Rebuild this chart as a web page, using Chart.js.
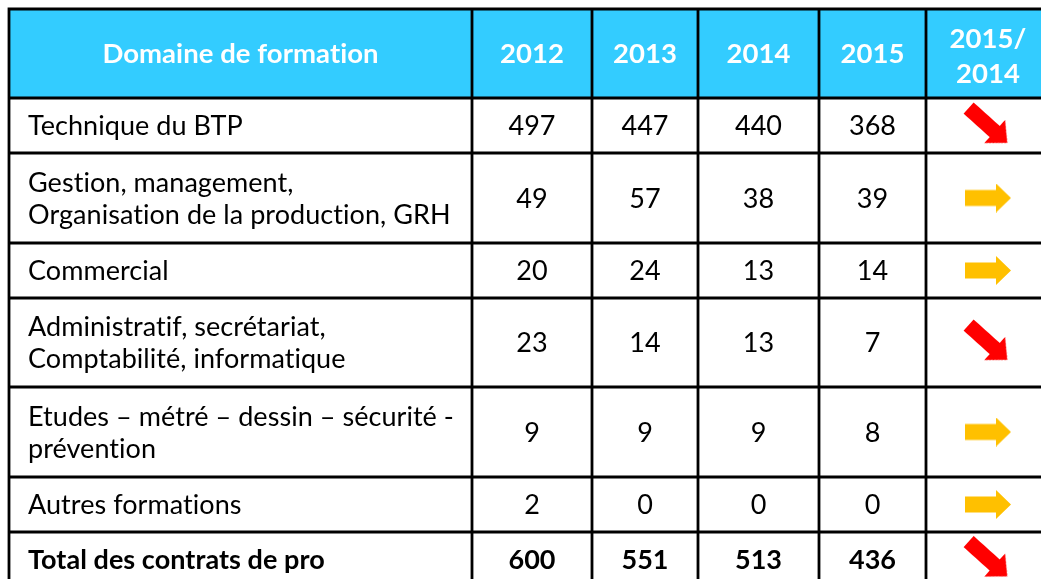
<!DOCTYPE html>
<html lang="fr">
<head>
<meta charset="UTF-8">
<title>Contrats de professionnalisation par domaine</title>
<script src="https://cdn.jsdelivr.net/npm/chart.js@4"></script>
<style>
    html, body { margin: 0; padding: 0; background: #ffffff; overflow: hidden; }
    #wrap { position: relative; width: 1041px; height: 579px; }
</style>
</head>
<body>
<div id="wrap"><canvas id="tableau"></canvas></div>
<script>
// Données du tableau
const enteteDomaine = 'Domaine de formation';
const annees = ['2012', '2013', '2014', '2015'];
const enteteEvolution = '2015/\n2014';
const domaines = [
    'Technique du BTP',
    'Gestion, management,\nOrganisation de la production, GRH',
    'Commercial',
    'Administratif, secrétariat,\nComptabilité, informatique',
    'Etudes – métré – dessin – sécurité -\nprévention',
    'Autres formations',
    'Total des contrats de pro'
];
const v2012 = [497, 49, 20, 23, 9, 2, 600];
const v2013 = [447, 57, 24, 14, 9, 0, 551];
const v2014 = [440, 38, 13, 13, 9, 0, 513];
const v2015 = [368, 39, 14, 7, 8, 0, 436];
const tendance = ['baisse', 'stable', 'stable', 'baisse', 'stable', 'stable', 'baisse'];

// mise en page (largeurs / hauteurs des cellules, en unités d'échelle)
const colW = [463, 120, 106, 121, 107, 124];
const rowH = [89, 55, 90, 55, 89, 90, 55, 54];
const CYAN = '#33ccff';
const FONT = 'Lato, "Open Sans", sans-serif';

const colEdge = [0]; colW.forEach(w => colEdge.push(colEdge[colEdge.length - 1] + w));
const rowEdge = [0]; rowH.forEach(h => rowEdge.push(rowEdge[rowEdge.length - 1] + h));
const colMid = c => (colEdge[c] + colEdge[c + 1]) / 2;
const rowMid = r => (rowEdge[r] + rowEdge[r + 1]) / 2;
const isTotal = i => i === domaines.length - 1;

// flèches (pointStyle en canvas)
function makeArrow(color, len, shaft, head, headLen) {
    const cv = document.createElement('canvas');
    cv.width = len; cv.height = head;
    const c = cv.getContext('2d');
    const m = head / 2;
    c.fillStyle = color;
    c.beginPath();
    c.moveTo(0, m - shaft / 2);
    c.lineTo(len - headLen, m - shaft / 2);
    c.lineTo(len - headLen, 0);
    c.lineTo(len, m);
    c.lineTo(len - headLen, head);
    c.lineTo(len - headLen, m + shaft / 2);
    c.lineTo(0, m + shaft / 2);
    c.closePath();
    c.fill();
    return cv;
}
const flecheStable = makeArrow('#ffc000', 46, 16, 29, 15);
const flecheBaisse = makeArrow('#ff0000', 52, 15, 31, 17);

const series = [v2012, v2013, v2014, v2015];
const datasets = series.map((vals, k) => ({
    label: annees[k],
    data: vals.map((v, i) => ({ x: colMid(k + 1), y: rowMid(i + 1), v: v })),
    pointRadius: 0,
    pointHoverRadius: 0
}));
datasets.push({
    label: enteteEvolution,
    data: tendance.map((t, i) => ({ x: colMid(5), y: rowMid(i + 1) })),
    pointStyle: tendance.map(t => t === 'baisse' ? flecheBaisse : flecheStable),
    rotation: tendance.map(t => t === 'baisse' ? 42 : 0),
    pointRadius: 10,
    pointHoverRadius: 10
});

function lignes(ctx, txt, x, y, lh) {
    const ls = txt.split('\n');
    const y0 = y - (ls.length - 1) * lh / 2;
    ls.forEach((l, i) => ctx.fillText(l, x, y0 + i * lh));
}

const tablePlugin = {
    id: 'tablePlugin',
    beforeDatasetsDraw(chart) {
        const { ctx, scales: { x, y } } = chart;
        ctx.save();
        ctx.fillStyle = CYAN;
        const x0 = x.getPixelForValue(colEdge[0]), x1 = x.getPixelForValue(colEdge[colEdge.length - 1]);
        const y0 = y.getPixelForValue(rowEdge[0]), y1 = y.getPixelForValue(rowEdge[1]);
        ctx.fillRect(x0, y0, x1 - x0, y1 - y0);
        ctx.restore();
    },
    afterDatasetsDraw(chart) {
        const { ctx, scales: { x, y } } = chart;
        ctx.save();
        // grille
        ctx.strokeStyle = '#000000';
        ctx.lineWidth = 2.8;
        const xa = x.getPixelForValue(colEdge[0]), xb = x.getPixelForValue(colEdge[colEdge.length - 1]);
        const ya = y.getPixelForValue(rowEdge[0]), yb = y.getPixelForValue(rowEdge[rowEdge.length - 1]);
        ctx.beginPath();
        rowEdge.forEach(r => { const p = y.getPixelForValue(r); ctx.moveTo(xa - 1.4, p); ctx.lineTo(xb + 1.4, p); });
        colEdge.forEach(c => { const p = x.getPixelForValue(c); ctx.moveTo(p, ya); ctx.lineTo(p, yb); });
        ctx.stroke();

        // pas de ligatures "ti" (Lato)
        if ('letterSpacing' in ctx) ctx.letterSpacing = '0.05px';
        ctx.textBaseline = 'middle';
        // entête
        ctx.fillStyle = '#ffffff';
        ctx.font = 'bold 27.5px ' + FONT;
        ctx.textAlign = 'center';
        const hy = y.getPixelForValue(rowMid(0));
        ctx.fillText(enteteDomaine, x.getPixelForValue(colMid(0)), hy + 1);
        annees.forEach((a, k) => ctx.fillText(a, x.getPixelForValue(colMid(k + 1)), hy + 1));
        lignes(ctx, enteteEvolution, x.getPixelForValue(colMid(5)), hy + 3, 35);

        // domaines
        ctx.fillStyle = '#000000';
        ctx.textAlign = 'left';
        domaines.forEach((d, i) => {
            ctx.font = (isTotal(i) ? 'bold ' : '') + '27px ' + FONT;
            lignes(ctx, d, x.getPixelForValue(colEdge[0]) + 19, y.getPixelForValue(rowMid(i + 1)) + 1, 32);
        });

        // valeurs, placées sur les points des jeux de données
        ctx.textAlign = 'center';
        series.forEach((vals, k) => {
            const meta = chart.getDatasetMeta(k);
            meta.data.forEach((pt, i) => {
                ctx.font = (isTotal(i) ? 'bold ' : '') + '27px ' + FONT;
                ctx.fillText(String(vals[i]), pt.x, pt.y + 1);
            });
        });
        ctx.restore();
    }
};

new Chart(document.getElementById('tableau'), {
    type: 'scatter',
    data: { datasets },
    options: {
        responsive: true,
        maintainAspectRatio: false,
        animation: false,
        events: [],
        layout: { autoPadding: false, padding: { left: 9, top: 9, right: 0, bottom: 0 } },
        plugins: { legend: { display: false }, tooltip: { enabled: false } },
        scales: {
            x: { type: 'linear', display: false, min: 0, max: 1032 },
            y: { type: 'linear', display: false, min: 0, max: 570, reverse: true }
        }
    },
    plugins: [tablePlugin]
});
</script>
</body>
</html>
